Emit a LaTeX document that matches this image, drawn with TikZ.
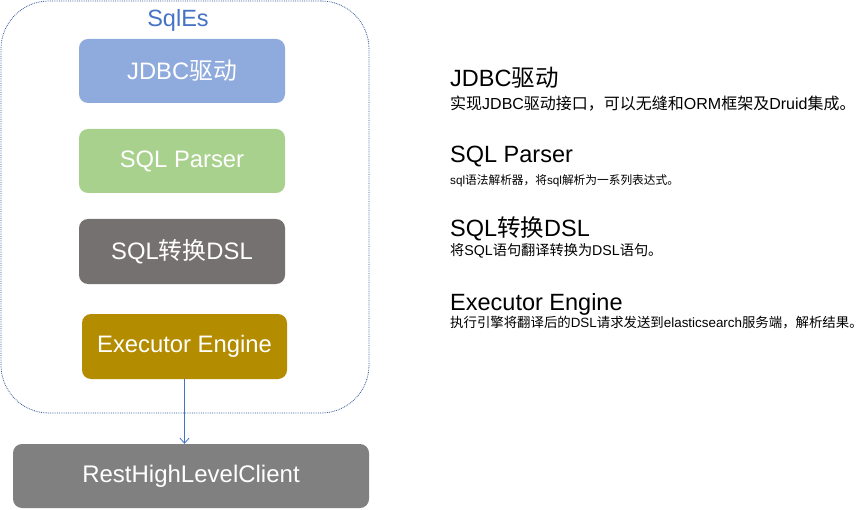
\documentclass[tikz,border=0pt]{standalone}
\usepackage{fontspec}
\setmainfont{Liberation Sans}
\newfontfamily\cjk{Noto Sans CJK SC}
\usetikzlibrary{arrows.meta}
\definecolor{cblue}{HTML}{4472C4}
\definecolor{cframe}{HTML}{2F5597}
\definecolor{cjdbc}{HTML}{8FAADC}
\definecolor{cparser}{HTML}{A9D18E}
\definecolor{cdsl}{HTML}{767171}
\definecolor{cexec}{HTML}{B48C00}
\definecolor{crest}{HTML}{808080}
\tikzset{
  box/.style={rounded corners=9pt, fill=#1, draw=none, text=white, inner sep=0pt,
    minimum width=206pt, minimum height=64pt, font=\fontsize{23.8}{26}\selectfont},
  head/.style={anchor=base west, inner sep=0pt, font=\fontsize{23.5}{26}\selectfont},
  desc/.style={anchor=base west, inner sep=0pt, font=\fontsize{#1}{#1}\selectfont},
}
\begin{document}
\begin{tikzpicture}[x=1pt,y=-1pt]
\useasboundingbox (0,0) rectangle (866,510);
% container
\node[draw=cframe, densely dotted, line width=0.8pt, rounded corners=48pt,
  minimum width=368pt, minimum height=412pt, inner sep=0pt] (sqles) at (185,207) {};
\node[text=cblue, inner sep=0pt, font=\fontsize{23.5}{26}\selectfont] (title) at (178,20) {SqlEs};
% boxes
\node[box=cjdbc] (jdbc) at (182,71) {JDBC{\cjk 驱动}};
\node[box=cparser] (parser) at (182,161) {SQL Parser};
\node[box=cdsl, minimum height=65pt] (dsl) at (182,251.5) {SQL{\cjk 转换}DSL};
\node[box=cexec, minimum width=205pt, minimum height=65pt] (exec) at (184.5,346.5) {Executor Engine};
\node[box=crest, minimum width=356pt, minimum height=64pt, font=\fontsize{24}{26}\selectfont] (rest) at (191,476) {RestHighLevelClient};
\draw[cblue, line width=0.8pt, -{Straight Barb[length=5pt,width=9pt]}] (exec.south) -- (exec.south |- rest.north);
% descriptions
\node[head] (h1) at (450,87) {JDBC{\cjk 驱动}};
\node[desc=16] (d1) at (450,110) {{\cjk 实现}JDBC{\cjk 驱动接口，可以无缝和}ORM{\cjk 框架及}Druid{\cjk 集成。}};
\node[head] (h2) at (450,163) {SQL Parser};
\node[desc=11.7] (d2) at (450,185) {sql{\cjk 语法解析器，将}sql{\cjk 解析为一系列表达式。}};
\node[head] (h3) at (450,237) {SQL{\cjk 转换}DSL};
\node[desc=14.2] (d3) at (450,256) {{\cjk 将}SQL{\cjk 语句翻译转换为}DSL{\cjk 语句。}};
\node[head] (h4) at (450,310) {Executor Engine};
\node[desc=13.4] (d4) at (450,327) {{\cjk 执行引擎将翻译后的}DSL{\cjk 请求发送到}elasticsearch{\cjk 服务端，解析结果。}};
\end{tikzpicture}
\end{document}
